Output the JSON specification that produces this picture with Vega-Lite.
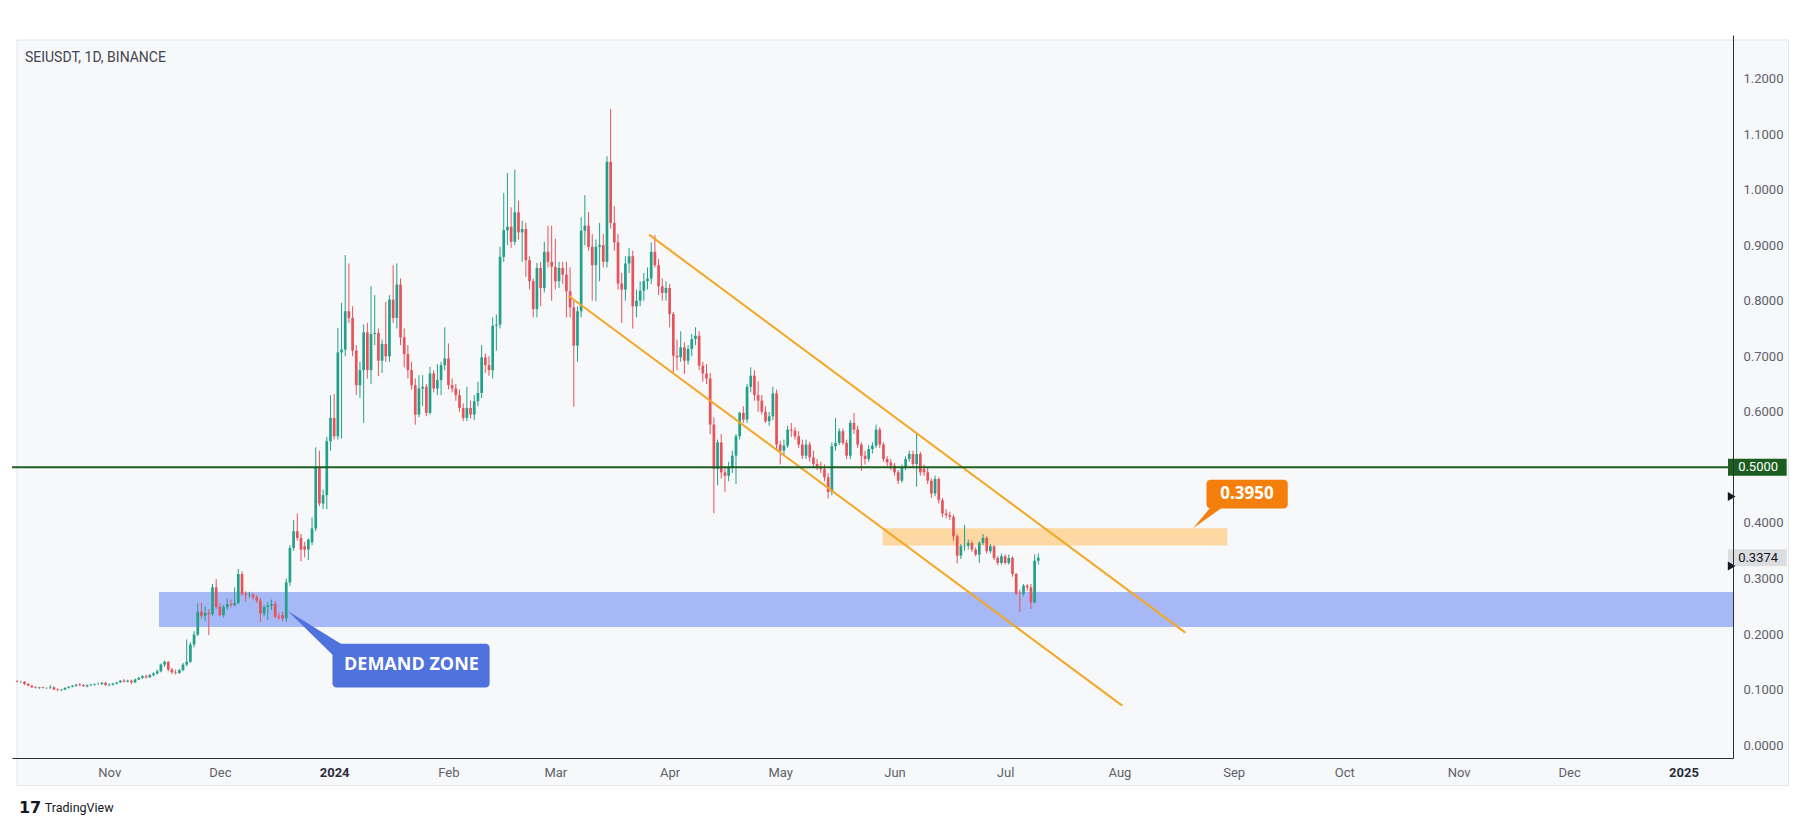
{
"$schema": "https://vega.github.io/schema/vega-lite/v6.json",
"width": 1721, "height": 723,
"autosize": {"type": "none"},
"padding": {"left": 12, "top": 35, "right": 82, "bottom": 78},
"background": "#ffffff",
"config": {"view": {"stroke": null}, "axis": {"grid": false}},
"datasets": {
"candles": [
{"d":"2023-10-07","o":0.115,"h":0.117,"l":0.113,"c":0.114},
{"d":"2023-10-08","o":0.114,"h":0.116,"l":0.112,"c":0.114},
{"d":"2023-10-09","o":0.114,"h":0.115,"l":0.108,"c":0.110},
{"d":"2023-10-10","o":0.110,"h":0.112,"l":0.106,"c":0.107},
{"d":"2023-10-11","o":0.107,"h":0.108,"l":0.103,"c":0.104},
{"d":"2023-10-12","o":0.104,"h":0.106,"l":0.102,"c":0.103},
{"d":"2023-10-13","o":0.103,"h":0.105,"l":0.101,"c":0.104},
{"d":"2023-10-14","o":0.104,"h":0.105,"l":0.102,"c":0.103},
{"d":"2023-10-15","o":0.103,"h":0.104,"l":0.101,"c":0.103},
{"d":"2023-10-16","o":0.103,"h":0.108,"l":0.101,"c":0.104},
{"d":"2023-10-17","o":0.104,"h":0.106,"l":0.099,"c":0.100},
{"d":"2023-10-18","o":0.100,"h":0.102,"l":0.097,"c":0.099},
{"d":"2023-10-19","o":0.099,"h":0.101,"l":0.097,"c":0.100},
{"d":"2023-10-20","o":0.100,"h":0.104,"l":0.099,"c":0.103},
{"d":"2023-10-21","o":0.103,"h":0.106,"l":0.102,"c":0.105},
{"d":"2023-10-22","o":0.105,"h":0.108,"l":0.104,"c":0.107},
{"d":"2023-10-23","o":0.107,"h":0.110,"l":0.105,"c":0.109},
{"d":"2023-10-24","o":0.109,"h":0.112,"l":0.106,"c":0.108},
{"d":"2023-10-25","o":0.108,"h":0.110,"l":0.105,"c":0.106},
{"d":"2023-10-26","o":0.106,"h":0.109,"l":0.104,"c":0.108},
{"d":"2023-10-27","o":0.108,"h":0.110,"l":0.106,"c":0.109},
{"d":"2023-10-28","o":0.109,"h":0.111,"l":0.107,"c":0.110},
{"d":"2023-10-29","o":0.110,"h":0.113,"l":0.108,"c":0.110},
{"d":"2023-10-30","o":0.110,"h":0.114,"l":0.108,"c":0.112},
{"d":"2023-10-31","o":0.112,"h":0.114,"l":0.107,"c":0.108},
{"d":"2023-11-01","o":0.108,"h":0.111,"l":0.106,"c":0.109},
{"d":"2023-11-02","o":0.109,"h":0.112,"l":0.107,"c":0.111},
{"d":"2023-11-03","o":0.111,"h":0.114,"l":0.109,"c":0.113},
{"d":"2023-11-04","o":0.113,"h":0.117,"l":0.112,"c":0.116},
{"d":"2023-11-05","o":0.116,"h":0.119,"l":0.113,"c":0.114},
{"d":"2023-11-06","o":0.114,"h":0.118,"l":0.113,"c":0.116},
{"d":"2023-11-07","o":0.116,"h":0.118,"l":0.110,"c":0.113},
{"d":"2023-11-08","o":0.113,"h":0.120,"l":0.112,"c":0.118},
{"d":"2023-11-09","o":0.118,"h":0.123,"l":0.117,"c":0.121},
{"d":"2023-11-10","o":0.121,"h":0.126,"l":0.119,"c":0.124},
{"d":"2023-11-11","o":0.124,"h":0.127,"l":0.120,"c":0.122},
{"d":"2023-11-12","o":0.122,"h":0.128,"l":0.121,"c":0.126},
{"d":"2023-11-13","o":0.126,"h":0.131,"l":0.124,"c":0.129},
{"d":"2023-11-14","o":0.129,"h":0.136,"l":0.127,"c":0.133},
{"d":"2023-11-15","o":0.133,"h":0.147,"l":0.131,"c":0.145},
{"d":"2023-11-16","o":0.145,"h":0.152,"l":0.141,"c":0.150},
{"d":"2023-11-17","o":0.150,"h":0.151,"l":0.133,"c":0.136},
{"d":"2023-11-18","o":0.136,"h":0.139,"l":0.128,"c":0.131},
{"d":"2023-11-19","o":0.131,"h":0.136,"l":0.127,"c":0.130},
{"d":"2023-11-20","o":0.130,"h":0.137,"l":0.128,"c":0.135},
{"d":"2023-11-21","o":0.135,"h":0.148,"l":0.133,"c":0.145},
{"d":"2023-11-22","o":0.145,"h":0.190,"l":0.142,"c":0.150},
{"d":"2023-11-23","o":0.150,"h":0.185,"l":0.148,"c":0.181},
{"d":"2023-11-24","o":0.181,"h":0.205,"l":0.176,"c":0.199},
{"d":"2023-11-25","o":0.199,"h":0.255,"l":0.196,"c":0.240},
{"d":"2023-11-26","o":0.240,"h":0.256,"l":0.228,"c":0.233},
{"d":"2023-11-27","o":0.233,"h":0.250,"l":0.224,"c":0.238},
{"d":"2023-11-28","o":0.238,"h":0.245,"l":0.198,"c":0.236},
{"d":"2023-11-29","o":0.236,"h":0.290,"l":0.232,"c":0.284},
{"d":"2023-11-30","o":0.284,"h":0.299,"l":0.245,"c":0.2485},
{"d":"2023-12-01","o":0.2485,"h":0.255,"l":0.232,"c":0.234},
{"d":"2023-12-02","o":0.234,"h":0.252,"l":0.230,"c":0.2485},
{"d":"2023-12-03","o":0.2485,"h":0.264,"l":0.244,"c":0.254},
{"d":"2023-12-04","o":0.254,"h":0.262,"l":0.248,"c":0.252},
{"d":"2023-12-05","o":0.252,"h":0.284,"l":0.250,"c":0.256},
{"d":"2023-12-06","o":0.256,"h":0.317,"l":0.254,"c":0.308},
{"d":"2023-12-07","o":0.308,"h":0.313,"l":0.268,"c":0.272},
{"d":"2023-12-08","o":0.272,"h":0.277,"l":0.258,"c":0.270},
{"d":"2023-12-09","o":0.270,"h":0.276,"l":0.265,"c":0.271},
{"d":"2023-12-10","o":0.271,"h":0.274,"l":0.262,"c":0.266},
{"d":"2023-12-11","o":0.266,"h":0.270,"l":0.256,"c":0.260},
{"d":"2023-12-12","o":0.260,"h":0.265,"l":0.222,"c":0.237},
{"d":"2023-12-13","o":0.237,"h":0.252,"l":0.232,"c":0.2485},
{"d":"2023-12-14","o":0.2485,"h":0.258,"l":0.225,"c":0.251},
{"d":"2023-12-15","o":0.251,"h":0.262,"l":0.243,"c":0.254},
{"d":"2023-12-16","o":0.254,"h":0.259,"l":0.228,"c":0.231},
{"d":"2023-12-17","o":0.231,"h":0.238,"l":0.226,"c":0.229},
{"d":"2023-12-18","o":0.234,"h":0.240,"l":0.223,"c":0.228},
{"d":"2023-12-19","o":0.228,"h":0.300,"l":0.222,"c":0.293},
{"d":"2023-12-20","o":0.293,"h":0.360,"l":0.287,"c":0.355},
{"d":"2023-12-21","o":0.355,"h":0.405,"l":0.350,"c":0.385},
{"d":"2023-12-22","o":0.385,"h":0.417,"l":0.368,"c":0.373},
{"d":"2023-12-23","o":0.373,"h":0.380,"l":0.331,"c":0.352},
{"d":"2023-12-24","o":0.358,"h":0.366,"l":0.338,"c":0.352},
{"d":"2023-12-25","o":0.352,"h":0.372,"l":0.333,"c":0.370},
{"d":"2023-12-26","o":0.365,"h":0.410,"l":0.360,"c":0.390},
{"d":"2023-12-27","o":0.390,"h":0.536,"l":0.385,"c":0.500},
{"d":"2023-12-28","o":0.500,"h":0.530,"l":0.430,"c":0.435},
{"d":"2023-12-29","o":0.435,"h":0.460,"l":0.425,"c":0.450},
{"d":"2023-12-30","o":0.450,"h":0.555,"l":0.425,"c":0.547},
{"d":"2023-12-31","o":0.547,"h":0.630,"l":0.530,"c":0.589},
{"d":"2024-01-01","o":0.589,"h":0.632,"l":0.550,"c":0.556},
{"d":"2024-01-02","o":0.556,"h":0.751,"l":0.550,"c":0.707},
{"d":"2024-01-03","o":0.707,"h":0.796,"l":0.552,"c":0.712},
{"d":"2024-01-04","o":0.712,"h":0.882,"l":0.700,"c":0.781},
{"d":"2024-01-05","o":0.781,"h":0.867,"l":0.760,"c":0.769},
{"d":"2024-01-06","o":0.769,"h":0.790,"l":0.700,"c":0.710},
{"d":"2024-01-07","o":0.710,"h":0.720,"l":0.630,"c":0.648},
{"d":"2024-01-08","o":0.648,"h":0.690,"l":0.625,"c":0.675},
{"d":"2024-01-09","o":0.675,"h":0.757,"l":0.580,"c":0.743},
{"d":"2024-01-10","o":0.743,"h":0.760,"l":0.660,"c":0.675},
{"d":"2024-01-11","o":0.675,"h":0.826,"l":0.650,"c":0.740},
{"d":"2024-01-12","o":0.740,"h":0.810,"l":0.720,"c":0.742},
{"d":"2024-01-13","o":0.742,"h":0.750,"l":0.664,"c":0.692},
{"d":"2024-01-14","o":0.692,"h":0.730,"l":0.670,"c":0.722},
{"d":"2024-01-15","o":0.722,"h":0.798,"l":0.690,"c":0.700},
{"d":"2024-01-16","o":0.700,"h":0.810,"l":0.690,"c":0.802},
{"d":"2024-01-17","o":0.802,"h":0.864,"l":0.760,"c":0.769},
{"d":"2024-01-18","o":0.769,"h":0.867,"l":0.750,"c":0.829},
{"d":"2024-01-19","o":0.829,"h":0.840,"l":0.720,"c":0.734},
{"d":"2024-01-20","o":0.734,"h":0.750,"l":0.680,"c":0.704},
{"d":"2024-01-21","o":0.704,"h":0.720,"l":0.660,"c":0.675},
{"d":"2024-01-22","o":0.675,"h":0.690,"l":0.640,"c":0.648},
{"d":"2024-01-23","o":0.648,"h":0.660,"l":0.577,"c":0.595},
{"d":"2024-01-24","o":0.595,"h":0.666,"l":0.590,"c":0.642},
{"d":"2024-01-25","o":0.642,"h":0.666,"l":0.610,"c":0.645},
{"d":"2024-01-26","o":0.645,"h":0.650,"l":0.592,"c":0.598},
{"d":"2024-01-27","o":0.598,"h":0.681,"l":0.595,"c":0.669},
{"d":"2024-01-28","o":0.669,"h":0.675,"l":0.635,"c":0.642},
{"d":"2024-01-29","o":0.642,"h":0.686,"l":0.630,"c":0.657},
{"d":"2024-01-30","o":0.657,"h":0.690,"l":0.630,"c":0.684},
{"d":"2024-01-31","o":0.684,"h":0.752,"l":0.675,"c":0.696},
{"d":"2024-02-01","o":0.696,"h":0.723,"l":0.640,"c":0.648},
{"d":"2024-02-02","o":0.648,"h":0.660,"l":0.635,"c":0.642},
{"d":"2024-02-03","o":0.642,"h":0.650,"l":0.620,"c":0.630},
{"d":"2024-02-04","o":0.630,"h":0.640,"l":0.600,"c":0.607},
{"d":"2024-02-05","o":0.607,"h":0.615,"l":0.583,"c":0.589},
{"d":"2024-02-06","o":0.589,"h":0.645,"l":0.583,"c":0.607},
{"d":"2024-02-07","o":0.607,"h":0.620,"l":0.588,"c":0.595},
{"d":"2024-02-08","o":0.595,"h":0.630,"l":0.585,"c":0.619},
{"d":"2024-02-09","o":0.619,"h":0.654,"l":0.610,"c":0.634},
{"d":"2024-02-10","o":0.634,"h":0.720,"l":0.625,"c":0.698},
{"d":"2024-02-11","o":0.698,"h":0.705,"l":0.670,"c":0.684},
{"d":"2024-02-12","o":0.684,"h":0.700,"l":0.665,"c":0.675},
{"d":"2024-02-13","o":0.675,"h":0.770,"l":0.660,"c":0.755},
{"d":"2024-02-14","o":0.755,"h":0.775,"l":0.710,"c":0.757},
{"d":"2024-02-15","o":0.757,"h":0.897,"l":0.750,"c":0.879},
{"d":"2024-02-16","o":0.879,"h":0.994,"l":0.870,"c":0.927},
{"d":"2024-02-17","o":0.927,"h":1.030,"l":0.900,"c":0.933},
{"d":"2024-02-18","o":0.933,"h":0.968,"l":0.895,"c":0.906},
{"d":"2024-02-19","o":0.906,"h":1.036,"l":0.900,"c":0.959},
{"d":"2024-02-20","o":0.959,"h":0.980,"l":0.910,"c":0.923},
{"d":"2024-02-21","o":0.923,"h":0.944,"l":0.870,"c":0.929},
{"d":"2024-02-22","o":0.929,"h":0.940,"l":0.843,"c":0.873},
{"d":"2024-02-23","o":0.873,"h":0.880,"l":0.820,"c":0.835},
{"d":"2024-02-24","o":0.835,"h":0.840,"l":0.770,"c":0.785},
{"d":"2024-02-25","o":0.785,"h":0.868,"l":0.770,"c":0.859},
{"d":"2024-02-26","o":0.859,"h":0.870,"l":0.790,"c":0.823},
{"d":"2024-02-27","o":0.823,"h":0.906,"l":0.815,"c":0.888},
{"d":"2024-02-28","o":0.888,"h":0.935,"l":0.860,"c":0.870},
{"d":"2024-02-29","o":0.870,"h":0.935,"l":0.800,"c":0.861},
{"d":"2024-03-01","o":0.861,"h":0.912,"l":0.820,"c":0.835},
{"d":"2024-03-02","o":0.835,"h":0.870,"l":0.823,"c":0.859},
{"d":"2024-03-03","o":0.859,"h":0.870,"l":0.830,"c":0.847},
{"d":"2024-03-04","o":0.847,"h":0.870,"l":0.770,"c":0.817},
{"d":"2024-03-05","o":0.817,"h":0.860,"l":0.770,"c":0.788},
{"d":"2024-03-06","o":0.788,"h":0.800,"l":0.609,"c":0.719},
{"d":"2024-03-07","o":0.719,"h":0.790,"l":0.690,"c":0.781},
{"d":"2024-03-08","o":0.781,"h":0.950,"l":0.770,"c":0.926},
{"d":"2024-03-09","o":0.926,"h":0.990,"l":0.900,"c":0.935},
{"d":"2024-03-10","o":0.935,"h":0.960,"l":0.890,"c":0.897},
{"d":"2024-03-11","o":0.897,"h":0.920,"l":0.800,"c":0.864},
{"d":"2024-03-12","o":0.864,"h":0.910,"l":0.799,"c":0.897},
{"d":"2024-03-13","o":0.897,"h":0.940,"l":0.835,"c":0.900},
{"d":"2024-03-14","o":0.900,"h":0.920,"l":0.860,"c":0.870},
{"d":"2024-03-15","o":0.870,"h":1.060,"l":0.860,"c":1.050},
{"d":"2024-03-16","o":1.050,"h":1.145,"l":0.930,"c":0.940},
{"d":"2024-03-17","o":0.940,"h":0.970,"l":0.890,"c":0.905},
{"d":"2024-03-18","o":0.905,"h":0.920,"l":0.820,"c":0.831},
{"d":"2024-03-19","o":0.831,"h":0.850,"l":0.760,"c":0.820},
{"d":"2024-03-20","o":0.820,"h":0.880,"l":0.800,"c":0.867},
{"d":"2024-03-21","o":0.867,"h":0.895,"l":0.850,"c":0.880},
{"d":"2024-03-22","o":0.880,"h":0.890,"l":0.750,"c":0.790},
{"d":"2024-03-23","o":0.790,"h":0.820,"l":0.770,"c":0.800},
{"d":"2024-03-24","o":0.800,"h":0.835,"l":0.790,"c":0.818},
{"d":"2024-03-25","o":0.818,"h":0.850,"l":0.800,"c":0.835},
{"d":"2024-03-26","o":0.835,"h":0.860,"l":0.820,"c":0.840},
{"d":"2024-03-27","o":0.840,"h":0.905,"l":0.830,"c":0.888},
{"d":"2024-03-28","o":0.888,"h":0.918,"l":0.860,"c":0.864},
{"d":"2024-03-29","o":0.864,"h":0.875,"l":0.810,"c":0.826},
{"d":"2024-03-30","o":0.826,"h":0.840,"l":0.800,"c":0.814},
{"d":"2024-03-31","o":0.814,"h":0.835,"l":0.800,"c":0.823},
{"d":"2024-04-01","o":0.823,"h":0.830,"l":0.752,"c":0.776},
{"d":"2024-04-02","o":0.776,"h":0.780,"l":0.670,"c":0.701},
{"d":"2024-04-03","o":0.701,"h":0.730,"l":0.675,"c":0.698},
{"d":"2024-04-04","o":0.698,"h":0.745,"l":0.690,"c":0.716},
{"d":"2024-04-05","o":0.716,"h":0.725,"l":0.668,"c":0.692},
{"d":"2024-04-06","o":0.692,"h":0.720,"l":0.685,"c":0.713},
{"d":"2024-04-07","o":0.713,"h":0.740,"l":0.700,"c":0.731},
{"d":"2024-04-08","o":0.731,"h":0.752,"l":0.720,"c":0.737},
{"d":"2024-04-09","o":0.737,"h":0.745,"l":0.675,"c":0.683},
{"d":"2024-04-10","o":0.683,"h":0.690,"l":0.654,"c":0.669},
{"d":"2024-04-11","o":0.669,"h":0.686,"l":0.650,"c":0.660},
{"d":"2024-04-12","o":0.660,"h":0.670,"l":0.560,"c":0.577},
{"d":"2024-04-13","o":0.577,"h":0.590,"l":0.417,"c":0.497},
{"d":"2024-04-14","o":0.497,"h":0.550,"l":0.468,"c":0.545},
{"d":"2024-04-15","o":0.545,"h":0.560,"l":0.480,"c":0.491},
{"d":"2024-04-16","o":0.491,"h":0.500,"l":0.456,"c":0.485},
{"d":"2024-04-17","o":0.485,"h":0.510,"l":0.475,"c":0.500},
{"d":"2024-04-18","o":0.500,"h":0.530,"l":0.490,"c":0.521},
{"d":"2024-04-19","o":0.521,"h":0.560,"l":0.470,"c":0.556},
{"d":"2024-04-20","o":0.556,"h":0.600,"l":0.550,"c":0.598},
{"d":"2024-04-21","o":0.598,"h":0.610,"l":0.580,"c":0.586},
{"d":"2024-04-22","o":0.586,"h":0.650,"l":0.580,"c":0.645},
{"d":"2024-04-23","o":0.645,"h":0.680,"l":0.635,"c":0.665},
{"d":"2024-04-24","o":0.665,"h":0.675,"l":0.620,"c":0.630},
{"d":"2024-04-25","o":0.630,"h":0.655,"l":0.600,"c":0.620},
{"d":"2024-04-26","o":0.620,"h":0.630,"l":0.595,"c":0.600},
{"d":"2024-04-27","o":0.600,"h":0.610,"l":0.580,"c":0.583},
{"d":"2024-04-28","o":0.583,"h":0.600,"l":0.575,"c":0.592},
{"d":"2024-04-29","o":0.592,"h":0.645,"l":0.585,"c":0.633},
{"d":"2024-04-30","o":0.633,"h":0.640,"l":0.530,"c":0.541},
{"d":"2024-05-01","o":0.541,"h":0.548,"l":0.505,"c":0.530},
{"d":"2024-05-02","o":0.530,"h":0.550,"l":0.520,"c":0.539},
{"d":"2024-05-03","o":0.539,"h":0.575,"l":0.535,"c":0.568},
{"d":"2024-05-04","o":0.568,"h":0.580,"l":0.555,"c":0.566},
{"d":"2024-05-05","o":0.566,"h":0.572,"l":0.550,"c":0.556},
{"d":"2024-05-06","o":0.556,"h":0.565,"l":0.535,"c":0.541},
{"d":"2024-05-07","o":0.541,"h":0.550,"l":0.515,"c":0.521},
{"d":"2024-05-08","o":0.521,"h":0.550,"l":0.515,"c":0.541},
{"d":"2024-05-09","o":0.541,"h":0.546,"l":0.510,"c":0.518},
{"d":"2024-05-10","o":0.518,"h":0.530,"l":0.500,"c":0.506},
{"d":"2024-05-11","o":0.506,"h":0.515,"l":0.495,"c":0.500},
{"d":"2024-05-12","o":0.500,"h":0.510,"l":0.490,"c":0.497},
{"d":"2024-05-13","o":0.497,"h":0.505,"l":0.475,"c":0.482},
{"d":"2024-05-14","o":0.482,"h":0.490,"l":0.444,"c":0.456},
{"d":"2024-05-15","o":0.456,"h":0.545,"l":0.450,"c":0.538},
{"d":"2024-05-16","o":0.538,"h":0.589,"l":0.530,"c":0.544},
{"d":"2024-05-17","o":0.544,"h":0.570,"l":0.540,"c":0.565},
{"d":"2024-05-18","o":0.565,"h":0.570,"l":0.540,"c":0.544},
{"d":"2024-05-19","o":0.544,"h":0.550,"l":0.515,"c":0.521},
{"d":"2024-05-20","o":0.521,"h":0.585,"l":0.515,"c":0.580},
{"d":"2024-05-21","o":0.580,"h":0.598,"l":0.560,"c":0.568},
{"d":"2024-05-22","o":0.568,"h":0.575,"l":0.535,"c":0.541},
{"d":"2024-05-23","o":0.541,"h":0.545,"l":0.494,"c":0.521},
{"d":"2024-05-24","o":0.521,"h":0.530,"l":0.505,"c":0.515},
{"d":"2024-05-25","o":0.515,"h":0.540,"l":0.510,"c":0.533},
{"d":"2024-05-26","o":0.533,"h":0.545,"l":0.525,"c":0.539},
{"d":"2024-05-27","o":0.539,"h":0.577,"l":0.535,"c":0.568},
{"d":"2024-05-28","o":0.568,"h":0.572,"l":0.535,"c":0.541},
{"d":"2024-05-29","o":0.541,"h":0.545,"l":0.510,"c":0.515},
{"d":"2024-05-30","o":0.515,"h":0.520,"l":0.500,"c":0.509},
{"d":"2024-05-31","o":0.509,"h":0.515,"l":0.495,"c":0.503},
{"d":"2024-06-01","o":0.503,"h":0.508,"l":0.485,"c":0.491},
{"d":"2024-06-02","o":0.491,"h":0.495,"l":0.470,"c":0.476},
{"d":"2024-06-03","o":0.476,"h":0.505,"l":0.472,"c":0.500},
{"d":"2024-06-04","o":0.500,"h":0.520,"l":0.495,"c":0.515},
{"d":"2024-06-05","o":0.515,"h":0.530,"l":0.510,"c":0.524},
{"d":"2024-06-06","o":0.524,"h":0.530,"l":0.500,"c":0.506},
{"d":"2024-06-07","o":0.506,"h":0.562,"l":0.465,"c":0.524},
{"d":"2024-06-08","o":0.524,"h":0.528,"l":0.485,"c":0.491},
{"d":"2024-06-09","o":0.497,"h":0.505,"l":0.485,"c":0.491},
{"d":"2024-06-10","o":0.491,"h":0.500,"l":0.470,"c":0.476},
{"d":"2024-06-11","o":0.476,"h":0.480,"l":0.445,"c":0.453},
{"d":"2024-06-12","o":0.453,"h":0.485,"l":0.448,"c":0.479},
{"d":"2024-06-13","o":0.479,"h":0.482,"l":0.435,"c":0.441},
{"d":"2024-06-14","o":0.441,"h":0.445,"l":0.410,"c":0.417},
{"d":"2024-06-15","o":0.417,"h":0.425,"l":0.408,"c":0.414},
{"d":"2024-06-16","o":0.414,"h":0.420,"l":0.405,"c":0.411},
{"d":"2024-06-17","o":0.411,"h":0.415,"l":0.368,"c":0.376},
{"d":"2024-06-18","o":0.376,"h":0.380,"l":0.327,"c":0.341},
{"d":"2024-06-19","o":0.341,"h":0.362,"l":0.335,"c":0.358},
{"d":"2024-06-20","o":0.358,"h":0.3965,"l":0.350,"c":0.359},
{"d":"2024-06-21","o":0.359,"h":0.370,"l":0.352,"c":0.364},
{"d":"2024-06-22","o":0.364,"h":0.368,"l":0.348,"c":0.352},
{"d":"2024-06-23","o":0.352,"h":0.356,"l":0.340,"c":0.343},
{"d":"2024-06-24","o":0.343,"h":0.367,"l":0.328,"c":0.364},
{"d":"2024-06-25","o":0.364,"h":0.380,"l":0.360,"c":0.373},
{"d":"2024-06-26","o":0.373,"h":0.376,"l":0.345,"c":0.349},
{"d":"2024-06-27","o":0.349,"h":0.362,"l":0.345,"c":0.358},
{"d":"2024-06-28","o":0.358,"h":0.360,"l":0.333,"c":0.337},
{"d":"2024-06-29","o":0.337,"h":0.340,"l":0.324,"c":0.328},
{"d":"2024-06-30","o":0.328,"h":0.345,"l":0.325,"c":0.340},
{"d":"2024-07-01","o":0.340,"h":0.343,"l":0.325,"c":0.328},
{"d":"2024-07-02","o":0.328,"h":0.343,"l":0.325,"c":0.337},
{"d":"2024-07-03","o":0.337,"h":0.340,"l":0.303,"c":0.308},
{"d":"2024-07-04","o":0.308,"h":0.310,"l":0.270,"c":0.273},
{"d":"2024-07-05","o":0.273,"h":0.280,"l":0.240,"c":0.272},
{"d":"2024-07-06","o":0.272,"h":0.290,"l":0.268,"c":0.287},
{"d":"2024-07-07","o":0.287,"h":0.290,"l":0.278,"c":0.284},
{"d":"2024-07-08","o":0.284,"h":0.290,"l":0.245,"c":0.257},
{"d":"2024-07-09","o":0.257,"h":0.343,"l":0.255,"c":0.332},
{"d":"2024-07-10","o":0.332,"h":0.345,"l":0.325,"c":0.3374}
],
"zones": [
{"zone":"demand","x1":"2023-11-14T12:00:00Z","x2":"2025-03-01T00:00:00Z","lo":0.2125,"hi":0.2755},
{"zone":"level","x1":"2024-05-28T19:00:00Z","x2":"2024-08-30T07:00:00Z","lo":0.3595,"hi":0.3906}
],
"channel": [
{"line":"upper","x1":"2024-03-26T14:00:00Z","p1":0.918,"x2":"2024-08-18T17:00:00Z","p2":0.2033},
{"line":"lower","x1":"2024-03-04T18:00:00Z","p1":0.808,"x2":"2024-08-01T14:00:00Z","p2":0.0719}
],
"pointers": [
{"call":"demand","d":"2023-12-19T10:00:00Z","lo":0.2414,"hi":0.2414},
{"call":"demand","d":"2024-01-04T19:00:00Z","lo":0.1353,"hi":0.1742},
{"call":"level","d":"2024-08-21T00:00:00Z","lo":0.3906,"hi":0.3906},
{"call":"level","d":"2024-08-29T02:00:00Z","lo":0.4286,"hi":0.4545}
],
"callouts": [
{"call":"demand","label":"DEMAND ZONE","x1":"2023-12-31T13:00:00Z","x2":"2024-02-12T04:00:00Z","lo":0.1035,"hi":0.1823,"xm":"2024-01-21T23:00:00Z","pm":0.1438},
{"call":"level","label":"0.3950","x1":"2024-08-24T15:00:00Z","x2":"2024-09-15T16:00:00Z","lo":0.4261,"hi":0.4775,"xm":"2024-09-04T14:00:00Z","pm":0.4518}
],
"tags": [
{"tag":"level","p":0.5,"label":"0.5000"},
{"tag":"last","p":0.3374,"label":"0.3374"}
],
"arrows": [
{"p":0.4474},
{"p":0.3225}
]
},
"layer": [
{
"data": {"values": [{}]},
"mark": {"type": "rect", "fill": "#f7f8fa", "stroke": "#e3e5ea", "strokeWidth": 1, "clip": false},
"encoding": {
"x": {"datum": {"year": 2023, "month": 10, "date": 6, "hours": 23, "minutes": 15, "utc": true}, "type": "temporal"},
"x2": {"datum": {"year": 2025, "month": 1, "date": 29, "hours": 12, "utc": true}},
"y": {"datum": 1.2693, "type": "quantitative"},
"y2": {"datum": -0.0728}
}
},
{
"data": {"name": "zones"},
"mark": {"type": "rect", "clip": true},
"encoding": {
"x": {"field": "x1", "type": "temporal"},
"x2": {"field": "x2"},
"y": {"field": "lo", "type": "quantitative"},
"y2": {"field": "hi"},
"color": {"condition": {"test": "datum.zone === 'demand'", "value": "#a6b8f5"}, "value": "#fdd8a2"}
}
},
{
"data": {"name": "candles"},
"mark": {"type": "rule", "strokeWidth": 1},
"encoding": {
"x": {"field": "d", "type": "temporal",
"scale": {"type": "utc", "domain": [{"year": 2023, "month": 10, "date": 6, "hours": 23, "minutes": 15, "utc": true}, {"year": 2025, "month": 1, "date": 13, "hours": 2, "utc": true}]},
"axis": {"orient": "bottom", "title": null, "zindex": 1, "tickCount": {"interval": "month", "step": 1},
"labelExpr": "utcmonth(datum.value) === 0 ? utcFormat(datum.value, '%Y') : utcFormat(datum.value, '%b')",
"labelFontWeight": {"condition": {"test": "utcmonth(datum.value) === 0", "value": "bold"}, "value": "normal"},
"labelColor": {"condition": {"test": "utcmonth(datum.value) === 0", "value": "#2a2e39"}, "value": "#5d606b"},
"ticks": false, "tickSize": 0, "labelPadding": 8, "domainColor": "#2a2e39", "domainWidth": 1,
"labelFont": "Roboto", "labelFontSize": 13, "labelOverlap": false, "labelFlush": false}},
"y": {"field": "l", "type": "quantitative",
"scale": {"domain": [-0.0142, 1.2693], "nice": false, "zero": false},
"axis": {"orient": "right", "title": null, "zindex": 1, "values": [0, 0.1, 0.2, 0.3, 0.4, 0.6, 0.7, 0.8, 0.9, 1.0, 1.1, 1.2], "format": ".4f",
"ticks": false, "tickSize": 0, "labelPadding": 10, "domainColor": "#2a2e39", "domainWidth": 1,
"labelColor": "#5d606b", "labelFont": "Roboto", "labelFontSize": 13, "labelOverlap": false, "labelFlush": false}},
"y2": {"field": "h"},
"color": {"condition": {"test": "datum.c >= datum.o", "value": "#22a08a"}, "value": "#e5535b"}
}
},
{
"data": {"name": "candles"},
"mark": {"type": "bar", "size": 2.7},
"encoding": {
"x": {"field": "d", "type": "temporal"},
"y": {"field": "o", "type": "quantitative"},
"y2": {"field": "c"},
"color": {"condition": {"test": "datum.c >= datum.o", "value": "#22a08a"}, "value": "#e5535b"}
}
},
{
"data": {"name": "channel"},
"mark": {"type": "rule", "color": "#f5a623", "strokeWidth": 2, "strokeCap": "round"},
"encoding": {
"x": {"field": "x1", "type": "temporal"},
"x2": {"field": "x2"},
"y": {"field": "p1", "type": "quantitative"},
"y2": {"field": "p2"}
}
},
{
"data": {"values": [{}]},
"mark": {"type": "rule", "color": "#1b5e20", "strokeWidth": 2},
"encoding": {"y": {"datum": 0.5, "type": "quantitative"}}
},
{
"data": {"name": "pointers"},
"mark": {"type": "area", "clip": false},
"encoding": {
"x": {"field": "d", "type": "temporal"},
"y": {"field": "lo", "type": "quantitative"},
"y2": {"field": "hi"},
"detail": {"field": "call", "type": "nominal"},
"color": {"condition": {"test": "datum.call === 'demand'", "value": "#4f72dc"}, "value": "#f57f0c"}
}
},
{
"data": {"name": "callouts"},
"mark": {"type": "rect", "cornerRadius": 4, "clip": false},
"encoding": {
"x": {"field": "x1", "type": "temporal"},
"x2": {"field": "x2"},
"y": {"field": "lo", "type": "quantitative"},
"y2": {"field": "hi"},
"color": {"condition": {"test": "datum.call === 'demand'", "value": "#4f72dc"}, "value": "#f57f0c"}
}
},
{
"data": {"name": "callouts"},
"mark": {"type": "text", "font": "Open Sans", "fontWeight": "bold", "color": "#ffffff", "align": "center", "baseline": "middle"},
"encoding": {
"x": {"field": "xm", "type": "temporal"},
"y": {"field": "pm", "type": "quantitative"},
"text": {"field": "label"},
"size": {"condition": {"test": "datum.call === 'demand'", "value": 18}, "value": 17}
}
},
{
"data": {"name": "tags"},
"mark": {"type": "bar", "size": 17, "clip": false},
"encoding": {
"x": {"datum": {"year": 2025, "month": 1, "date": 13, "hours": 2, "utc": true}, "type": "temporal"},
"x2": {"datum": {"year": 2025, "month": 1, "date": 29, "hours": 0, "utc": true}},
"y": {"field": "p", "type": "quantitative"},
"color": {"condition": {"test": "datum.tag === 'level'", "value": "#1b5e20"}, "value": "#dcdde1"}
}
},
{
"data": {"name": "tags"},
"mark": {"type": "text", "font": "Roboto", "fontSize": 13, "align": "left", "baseline": "middle", "clip": false},
"encoding": {
"x": {"datum": {"year": 2025, "month": 1, "date": 15, "hours": 20, "utc": true}, "type": "temporal"},
"y": {"field": "p", "type": "quantitative"},
"text": {"field": "label"},
"color": {"condition": {"test": "datum.tag === 'level'", "value": "#ffffff"}, "value": "#131722"}
}
},
{
"data": {"name": "arrows"},
"mark": {"type": "point", "shape": "triangle-right", "filled": true, "size": 80, "color": "#131722", "opacity": 1, "clip": false},
"encoding": {
"x": {"datum": {"year": 2025, "month": 1, "date": 14, "hours": 2, "utc": true}, "type": "temporal"},
"y": {"field": "p", "type": "quantitative"}
}
},
{
"data": {"values": [{"label": "SEIUSDT, 1D, BINANCE", "d": "2023-10-09T03:00:00Z", "p": 1.2374}]},
"mark": {"type": "text", "font": "Roboto", "fontSize": 14, "color": "#434651", "align": "left", "baseline": "middle"},
"encoding": {
"x": {"field": "d", "type": "temporal"},
"y": {"field": "p", "type": "quantitative"},
"text": {"field": "label"}
}
},
{
"data": {"values": [{"label": "17", "d": "2023-10-07T12:00:00Z", "p": -0.1136}]},
"mark": {"type": "text", "font": "DejaVu Sans", "fontSize": 16, "fontWeight": 900, "color": "#131722", "align": "left", "baseline": "middle", "clip": false},
"encoding": {
"x": {"field": "d", "type": "temporal"},
"y": {"field": "p", "type": "quantitative"},
"text": {"field": "label"}
}
},
{
"data": {"values": [{"label": "TradingView", "d": "2023-10-14T12:00:00Z", "p": -0.1136}]},
"mark": {"type": "text", "font": "Roboto", "fontSize": 12.5, "color": "#131722", "align": "left", "baseline": "middle", "clip": false},
"encoding": {
"x": {"field": "d", "type": "temporal"},
"y": {"field": "p", "type": "quantitative"},
"text": {"field": "label"}
}
}
]
}
